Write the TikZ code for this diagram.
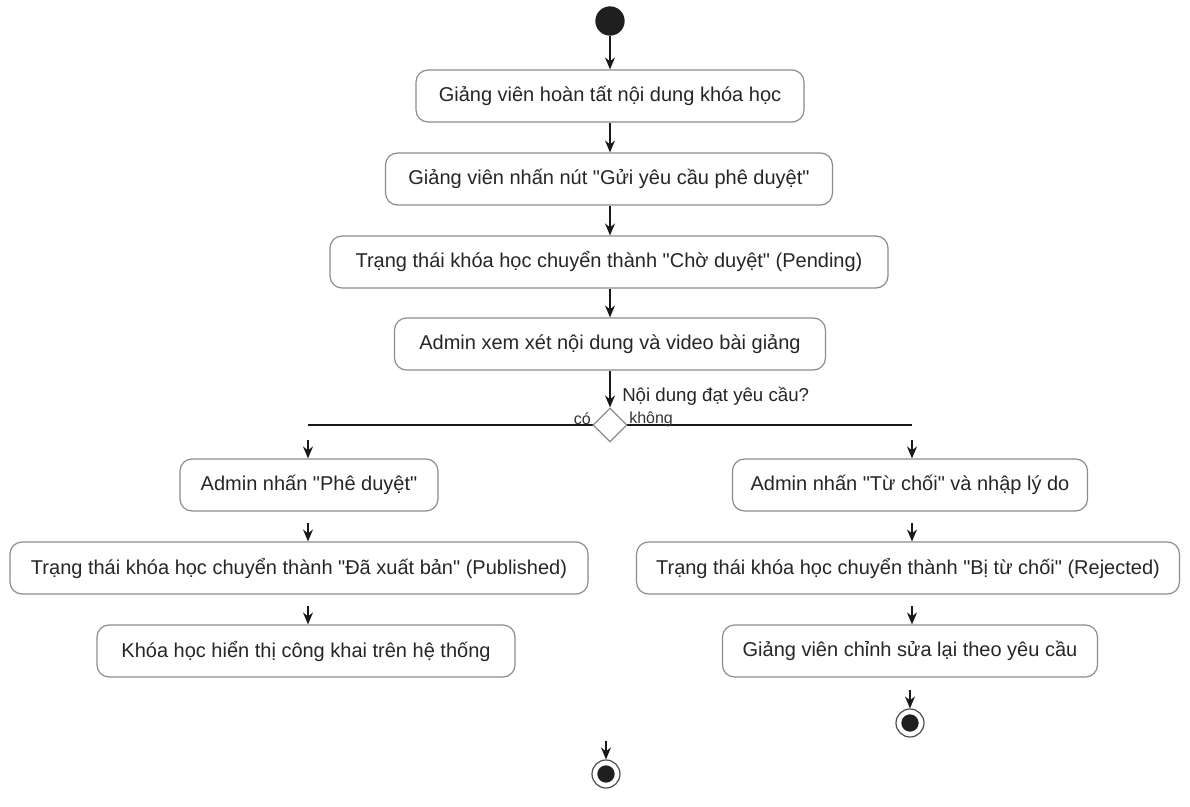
\documentclass[tikz,border=0pt]{standalone}
\usepackage{fontspec}
\setmainfont{Liberation Sans}[Ligatures=TeXOff]
\usetikzlibrary{arrows.meta,shapes.geometric}
\tikzset{
  act/.style={draw=black!45,line width=0.9pt,rounded corners=9pt,minimum height=39pt,inner sep=0pt,
    font=\fontsize{15pt}{18pt}\selectfont,text=black!85},
  arr/.style={draw=black!90,line width=1.1pt,-{Stealth[length=9pt,width=7.5pt,inset=3pt]}},
  bar/.style={draw=black!90,line width=1.6pt},
  startdot/.style={circle,fill=black!88,minimum size=22pt,inner sep=0pt},
  enddot/.style={circle,draw=black!70,line width=0.9pt,fill=white,minimum size=21pt,inner sep=0pt,
    path picture={\fill[black!88] (path picture bounding box.center) circle (6.5pt);}},
  dec/.style={diamond,draw=black!45,line width=0.9pt,fill=white,minimum width=25.5pt,minimum height=25.5pt,inner sep=0pt,aspect=1},
  lbl/.style={font=\fontsize{14pt}{16pt}\selectfont,text=black!85,inner sep=0pt},
  slbl/.style={font=\fontsize{12pt}{14pt}\selectfont,text=black!80,inner sep=0pt},
}
\begin{document}
\begin{tikzpicture}[x=0.75pt,y=-0.75pt]
\useasboundingbox[fill=white] (0,0) rectangle (1190,807);
\node[startdot] (start) at (610,21) {};
\node[act,minimum width=388*0.75pt] (b1) at (610,96) {Giảng viên hoàn tất nội dung khóa học};
\node[act,minimum width=447*0.75pt] (b2) at (609,179) {Giảng viên nhấn nút "Gửi yêu cầu phê duyệt"};
\node[act,minimum width=558*0.75pt] (b3) at (609,262) {Trạng thái khóa học chuyển thành "Chờ duyệt" (Pending)};
\node[act,minimum width=431*0.75pt] (b4) at (610,344) {Admin xem xét nội dung và video bài giảng};
\coordinate (barL) at (308,425);
\coordinate (barR) at (912,425);
\draw[bar] (barL) -- (barR);
\node[dec] (d) at (610,425) {};
\draw[arr] (start) -- (b1);
\draw[arr] (b1.south) -- (b1.south |- b2.north);
\draw[arr] (b2.south -| b1.south) -- (b1.south |- b3.north);
\draw[arr] (b3.south -| b1.south) -- (b1.south |- b4.north);
\draw[arr] (b4.south) -- (d.north);
\node[lbl,anchor=west] (q) at (622,396) {Nội dung đạt yêu cầu?};
\node[slbl,anchor=east] (yes) at (591,419) {có};
\node[slbl,anchor=west] (no) at (629,419) {không};
% left branch
\node[act,minimum width=258*0.75pt] (l1) at (309,485) {Admin nhấn "Phê duyệt"};
\node[act,minimum width=578*0.75pt] (l2) at (299,568) {Trạng thái khóa học chuyển thành "Đã xuất bản" (Published)};
\node[act,minimum width=418*0.75pt] (l3) at (306,651) {Khóa học hiển thị công khai trên hệ thống};
% right branch
\node[act,minimum width=355*0.75pt] (r1) at (910,485) {Admin nhấn "Từ chối" và nhập lý do};
\node[act,minimum width=543*0.75pt] (r2) at (908,568) {Trạng thái khóa học chuyển thành "Bị từ chối" (Rejected)};
\node[act,minimum width=375*0.75pt] (r3) at (910,651) {Giảng viên chỉnh sửa lại theo yêu cầu};
\node[enddot] (endR) at (910,723) {};
\node[enddot] (endC) at (606,774) {};
% stub arrows
\draw[arr] ([yshift=14pt]l1.north -| barL) -- (l1.north -| barL);
\draw[arr] ([yshift=14pt]l2.north -| barL) -- (l2.north -| barL);
\draw[arr] ([yshift=14pt]l3.north -| barL) -- (l3.north -| barL);
\draw[arr] ([yshift=14pt]r1.north -| barR) -- (r1.north -| barR);
\draw[arr] ([yshift=14pt]r2.north -| barR) -- (r2.north -| barR);
\draw[arr] ([yshift=14pt]r3.north -| barR) -- (r3.north -| barR);
\draw[arr] ([yshift=14pt]endR.north) -- (endR.north);
\draw[arr] ([yshift=14pt]endC.north) -- (endC.north);
\end{tikzpicture}
\end{document}
